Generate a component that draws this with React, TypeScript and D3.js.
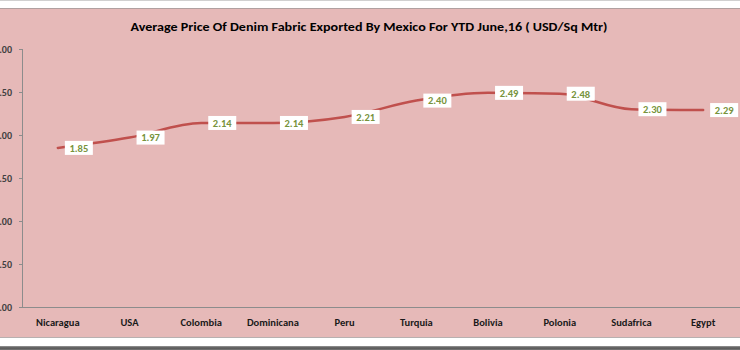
import React from "react";
import * as d3 from "d3";

const categories = ["Nicaragua", "USA", "Colombia", "Dominicana", "Peru", "Turquia", "Bolivia", "Polonia", "Sudafrica", "Egypt"];
const prices = [1.85, 1.97, 2.14, 2.14, 2.21, 2.4, 2.49, 2.48, 2.3, 2.29];
const yTicks = [0, 0.5, 1, 1.5, 2, 2.5, 3];
const title = "Average Price Of Denim Fabric Exported By Mexico For YTD June,16 ( USD/Sq Mtr)";

const W = 740;
const H = 350;
const plotLeft = 22;
const plotRight = 739;
const plotTop = 49;
const plotBottom = 307;

export default function App() {
  const x = d3.scaleBand<string>().domain(categories).range([plotLeft, plotRight]).padding(0);
  const y = d3.scaleLinear().domain([0, 3]).range([plotBottom, plotTop]);
  const cx = (c: string) => (x(c) as number) + x.bandwidth() / 2;
  const pts = categories.map((c, i) => [cx(c), y(prices[i])] as [number, number]);
  const line = d3.line().curve(d3.curveMonotoneX)(pts) as string;
  const font = "Calibri, Carlito, 'Open Sans', 'Liberation Sans', sans-serif";

  return (
    <svg width={W} height={H} style={{ position: "absolute", left: 0, top: 0, display: "block" }} fontFamily={font}>
      <rect x={0} y={0} width={W} height={H} fill="#ffffff" />
      <rect x={0} y={0} width={W} height={1} fill="#d0d0d0" />
      <rect x={0} y={8} width={W} height={1} fill="#b0a0a0" />
      <rect x={0} y={9} width={W} height={328} fill="#E6B9B8" />
      <rect x={0} y={337} width={W} height={1} fill="#b8b0b0" />
      <defs>
        <linearGradient id="shadow" x1="0" y1="0" x2="0" y2="1">
          <stop offset="0" stopColor="#9a9a9a" />
          <stop offset="0.5" stopColor="#555555" />
          <stop offset="1" stopColor="#7a7a7a" />
        </linearGradient>
      </defs>
      <rect x={0} y={346} width={W} height={4} fill="url(#shadow)" />

      <text x={369} y={31} textAnchor="middle" fontSize={12} fontWeight="bold" fill="#000" textLength={477} lengthAdjust="spacingAndGlyphs">
        {title}
      </text>

      {/* y axis */}
      <line x1={plotLeft + 0.5} x2={plotLeft + 0.5} y1={plotTop} y2={plotBottom} stroke="#8c8c8c" strokeWidth={1} />
      {yTicks.map((t) => (
        <g key={t}>
          <line x1={plotLeft - 3} x2={plotLeft} y1={Math.round(y(t)) + 0.5} y2={Math.round(y(t)) + 0.5} stroke="#8c8c8c" />
          <text x={12} y={y(t)} dy="0.35em" textAnchor="end" fontSize={10} fontWeight="bold" fill="#404040">
            {t.toFixed(2)}
          </text>
        </g>
      ))}
      {/* x axis */}
      <line x1={plotLeft} x2={W} y1={plotBottom + 0.5} y2={plotBottom + 0.5} stroke="#8c8c8c" strokeWidth={1} />
      {categories.map((c) => (
        <text key={c} x={cx(c)} y={322} dy="0.35em" textAnchor="middle" fontSize={10.5} fontWeight="bold" fill="#1a1a1a">
          {c}
        </text>
      ))}

      <path d={line} fill="none" stroke="#C0504D" strokeWidth={2.5} strokeLinejoin="round" strokeLinecap="round" />

      {pts.map(([px, py], i) => (
        <g key={categories[i]}>
          <rect x={px + 7} y={py - 7} width={28} height={14} fill="#ffffff" />
          <text x={px + 21} y={py} dy="0.36em" textAnchor="middle" fontSize={10.5} fontWeight="bold" fill="#77933C">
            {prices[i].toFixed(2)}
          </text>
        </g>
      ))}
    </svg>
  );
}
